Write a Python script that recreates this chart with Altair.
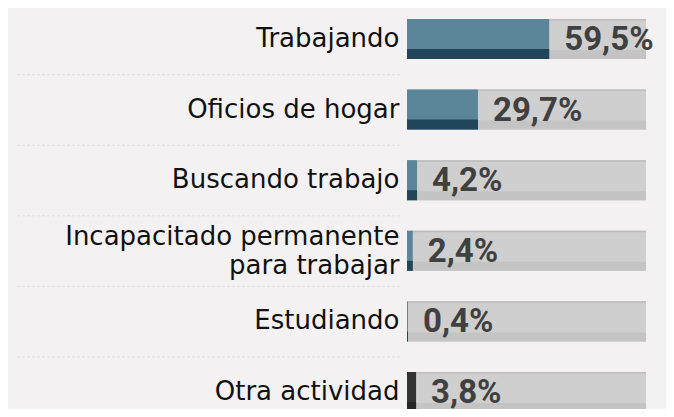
import altair as alt
import pandas as pd

categories = [
    "Trabajando",
    "Oficios de hogar",
    "Buscando trabajo",
    "Incapacitado permanente|para trabajar",
    "Estudiando",
    "Otra actividad",
]
values = [59.5, 29.7, 4.2, 2.4, 0.4, 3.8]
value_labels = ["59,5%", "29,7%", "4,2%", "2,4%", "0,4%", "3,8%"]
totals = [100, 100, 100, 100, 100, 100]
bar_colors = ["#5b8599", "#5b8599", "#5b8599", "#5b8599", "#5b8599", "#333333"]
strip_colors = ["#21465a", "#21465a", "#21465a", "#21465a", "#21465a", "#262626"]

df = pd.DataFrame({
    "cat": categories,
    "value": values,
    "label": value_labels,
    "total": totals,
    "color": bar_colors,
    "strip": strip_colors,
})

y_enc = alt.Y(
    "cat:N",
    sort=categories,
    scale=alt.Scale(paddingInner=0.433, paddingOuter=0, range=[0, 393]),
    axis=alt.Axis(
        title=None,
        ticks=False,
        tickSize=0,
        domain=False,
        grid=False,
        labelFont="DejaVu Sans",
        labelFontSize=26,
        labelColor="#111111",
        labelPadding=8,
        labelLineHeight=29,
        labelLimit=400,
        labelExpr="split(datum.label, '|')",
        labelOffset=alt.ExprRef("indexof(datum.label, '|') >= 0 ? -14 : 0"),
    ),
)
x_scale = alt.Scale(domain=[0, 100])

base = alt.Chart(df)

bg = base.mark_bar(color="#cfcfcf").encode(
    y=y_enc, x=alt.X("total:Q", scale=x_scale, axis=None)
)
bg_top = base.mark_bar(color="#bdbdbd", size=1.5, yOffset=-19.3).encode(
    y=y_enc, x=alt.X("total:Q", scale=x_scale, axis=None)
)
bg_strip = base.mark_bar(color="#c4c4c4", size=9, yOffset=15.5).encode(
    y=y_enc, x=alt.X("total:Q", scale=x_scale, axis=None)
)
bar = base.mark_bar().encode(
    y=y_enc,
    x=alt.X("value:Q", scale=x_scale, axis=None),
    color=alt.Color("color:N", scale=None),
)
bar_strip = base.mark_bar(size=10, yOffset=15).encode(
    y=y_enc,
    x=alt.X("value:Q", scale=x_scale, axis=None),
    color=alt.Color("strip:N", scale=None),
)
text = base.mark_text(
    align="left", baseline="middle", dx=15, dy=1,
    font="Roboto", fontSize=33, fontWeight="bold", color="#404040",
).encode(
    y=y_enc,
    x=alt.X("value:Q", scale=x_scale, axis=None),
    text="label:N",
)
seps = base.mark_rule(color="#e0dede", strokeDash=[3, 2], strokeWidth=1, yOffset=-35).encode(
    y=y_enc,
    x=alt.value(-390),
    x2=alt.value(-5),
)

chart = alt.layer(seps, bg, bg_top, bg_strip, bar, bar_strip, text).properties(
    width=239,
    height=390,
    autosize=alt.AutoSizeParams(type="none"),
    padding={"left": 399, "top": 11, "right": 20, "bottom": 0},
    background="#f3f1f2",
).configure_view(stroke=None)

chart.save("out.html", embed_options={"renderer": "svg", "actions": False})
